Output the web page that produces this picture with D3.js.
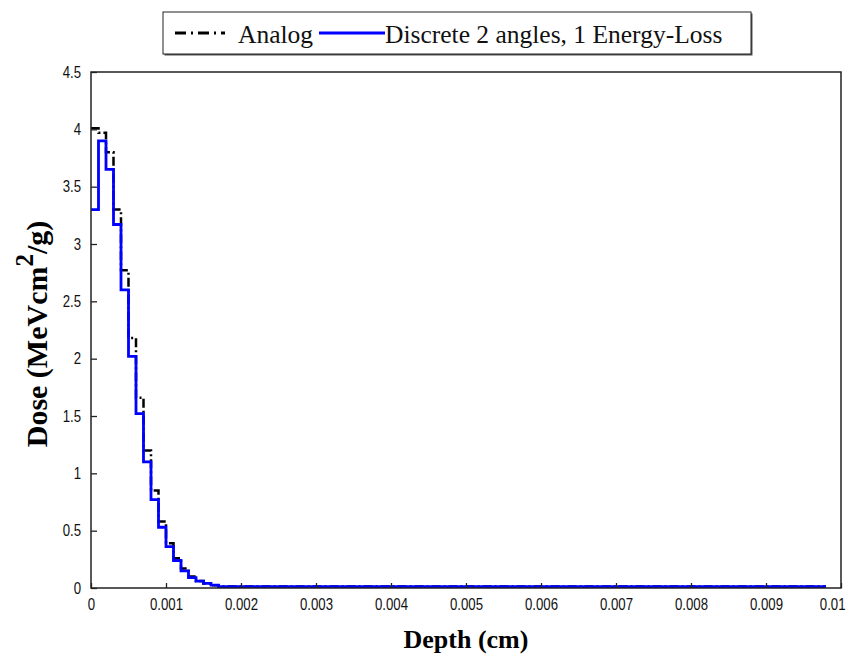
<!DOCTYPE html>
<html>
<head>
<meta charset="utf-8">
<script src="https://cdn.jsdelivr.net/npm/d3@7"></script>
<style>
  body { margin: 0; background: #fff; }
  svg { display: block; }
</style>
</head>
<body>
<svg id="chart" width="849" height="664"></svg>
<script>
"use strict";

// histogram bins: left edge of first bin and bin width (cm)
const binStart = 0;
const binWidth = 0.0001;

// Dose per bin, analog MC
const analogDose = [
  4.01, 3.97, 3.80, 3.30, 2.77, 2.18, 1.66, 1.20, 0.85, 0.58,
  0.39, 0.26, 0.17, 0.10, 0.06, 0.04, 0.025, 0.012, 0.012, 0.012,
  0.012, 0.012, 0.012, 0.012, 0.012, 0.012, 0.012, 0.012, 0.012, 0.012,
  0.012, 0.012, 0.012, 0.012, 0.012, 0.012, 0.012, 0.012, 0.012, 0.012,
  0.012, 0.012, 0.012, 0.012, 0.012, 0.012, 0.012, 0.012, 0.012, 0.012,
  0.012, 0.012, 0.012, 0.012, 0.012, 0.012, 0.012, 0.012, 0.012, 0.012,
  0.012, 0.012, 0.012, 0.012, 0.012, 0.012, 0.012, 0.012, 0.012, 0.012,
  0.012, 0.012, 0.012, 0.012, 0.012, 0.012, 0.012, 0.012, 0.012, 0.012,
  0.012, 0.012, 0.012, 0.012, 0.012, 0.012, 0.012, 0.012, 0.012, 0.012,
  0.012, 0.012, 0.012, 0.012, 0.012, 0.012, 0.012, 0.012, 0.012
];

// Dose per bin, discrete 2 angles / 1 energy-loss
const discreteDose = [
  3.30, 3.90, 3.65, 3.17, 2.60, 2.02, 1.52, 1.10, 0.77, 0.53,
  0.36, 0.24, 0.15, 0.09, 0.06, 0.04, 0.025, 0.012, 0.012, 0.012,
  0.012, 0.012, 0.012, 0.012, 0.012, 0.012, 0.012, 0.012, 0.012, 0.012,
  0.012, 0.012, 0.012, 0.012, 0.012, 0.012, 0.012, 0.012, 0.012, 0.012,
  0.012, 0.012, 0.012, 0.012, 0.012, 0.012, 0.012, 0.012, 0.012, 0.012,
  0.012, 0.012, 0.012, 0.012, 0.012, 0.012, 0.012, 0.012, 0.012, 0.012,
  0.012, 0.012, 0.012, 0.012, 0.012, 0.012, 0.012, 0.012, 0.012, 0.012,
  0.012, 0.012, 0.012, 0.012, 0.012, 0.012, 0.012, 0.012, 0.012, 0.012,
  0.012, 0.012, 0.012, 0.012, 0.012, 0.012, 0.012, 0.012, 0.012, 0.012,
  0.012, 0.012, 0.012, 0.012, 0.012, 0.012, 0.012, 0.012, 0.012
];

const xTicks = [0, 0.001, 0.002, 0.003, 0.004, 0.005, 0.006, 0.007, 0.008, 0.009, 0.01];
const xTickLabels = ["0", "0.001", "0.002", "0.003", "0.004", "0.005", "0.006", "0.007", "0.008", "0.009", "0.01"];
const yTicks = [0, 0.5, 1, 1.5, 2, 2.5, 3, 3.5, 4, 4.5];
const yTickLabels = ["0", "0.5", "1", "1.5", "2", "2.5", "3", "3.5", "4", "4.5"];
const seriesNames = ["Analog", "Discrete 2 angles, 1 Energy-Loss"];

const margin = {left: 91, top: 72, right: 8, bottom: 76};
const W = 849, H = 664;
const pw = W - margin.left - margin.right;
const ph = H - margin.top - margin.bottom;
const tickFont = "'Liberation Sans', Arial, sans-serif";
const serif = "'Liberation Serif', 'Times New Roman', serif";

const svg = d3.select("#chart");
const g = svg.append("g").attr("transform", `translate(${margin.left},${margin.top})`);

const x = d3.scaleLinear().domain([0, 0.01]).range([0, pw]);
const y = d3.scaleLinear().domain([0, 4.5]).range([ph, 0]);

const toPts = (arr) => arr.map((v, i) => [binStart + i * binWidth, v]);

const line = d3.line()
  .x(d => x(d[0]))
  .y(d => y(d[1]))
  .curve(d3.curveStepAfter);

// analog (dash-dot) underneath
g.append("path")
  .datum(toPts(analogDose))
  .attr("fill", "none")
  .attr("stroke", "#000")
  .attr("stroke-width", 2.5)
  .attr("stroke-dasharray", "9,3,2,3")
  .attr("d", line);

g.append("path")
  .datum(toPts(discreteDose))
  .attr("fill", "none")
  .attr("stroke", "#0000ff")
  .attr("stroke-width", 2.8)
  .attr("d", line);

// axes (ticks point inwards)
const xAxis = d3.axisBottom(x).tickValues(xTicks)
  .tickFormat((d, i) => xTickLabels[i]).tickSizeInner(-5).tickSizeOuter(0).tickPadding(10);
const yAxis = d3.axisLeft(y).tickValues(yTicks)
  .tickFormat((d, i) => yTickLabels[i]).tickSizeInner(-6).tickSizeOuter(0).tickPadding(10);

const gx = g.append("g").attr("transform", `translate(0,${ph})`).call(xAxis);
const gy = g.append("g").call(yAxis);
[gx, gy].forEach(a => {
  a.select(".domain").remove();
  a.selectAll("line").attr("stroke", "#222").attr("stroke-width", 1.3);
  a.selectAll("text").attr("font-family", tickFont)
    .attr("font-size", 16.5).attr("fill", "#111")
    // squeeze glyphs: the original tick font is a narrow face
    .each(function() {
      const w = this.getComputedTextLength();
      d3.select(this).attr("textLength", w * 0.8).attr("lengthAdjust", "spacingAndGlyphs");
    });
});
// last x label sits at the page edge: keep it inside
gx.selectAll(".tick text").filter((d, i) => i === xTicks.length - 1)
  .attr("text-anchor", "end").attr("x", W - margin.left - pw - 4);

// frame
g.append("rect")
  .attr("width", pw).attr("height", ph)
  .attr("fill", "none").attr("stroke", "#222").attr("stroke-width", 1.5);

// axis titles
svg.append("text")
  .attr("x", margin.left + pw / 2).attr("y", 648)
  .attr("text-anchor", "middle")
  .attr("font-family", serif)
  .attr("font-weight", "bold").attr("font-size", 26)
  .text("Depth (cm)");

const yl = svg.append("text")
  .attr("transform", `translate(47,${margin.top + ph / 2 + 4}) rotate(-90)`)
  .attr("text-anchor", "middle")
  .attr("font-family", serif)
  .attr("font-weight", "bold").attr("font-size", 30);
yl.append("tspan").text("Dose (MeVcm");
yl.append("tspan").attr("dy", -14).attr("font-size", 25).text("2");
yl.append("tspan").attr("dy", 14).text("/g)");

// legend
const lg = svg.append("g").attr("transform", "translate(163,12)");
lg.append("rect").attr("x", 1.5).attr("y", 1.5).attr("width", 588).attr("height", 42).attr("fill", "#555");
lg.append("rect").attr("width", 588).attr("height", 42)
  .attr("fill", "#fff").attr("stroke", "#222").attr("stroke-width", 1);
const legendItems = [
  {name: seriesNames[0], x0: 12, x1: 62, tx: 75, color: "#000", dash: "11,5,2,5"},
  {name: seriesNames[1], x0: 156, x1: 222, tx: 222, color: "#0000ff", dash: null}
];
legendItems.forEach(it => {
  lg.append("line").attr("x1", it.x0).attr("x2", it.x1).attr("y1", 21).attr("y2", 21)
    .attr("stroke", it.color).attr("stroke-width", 2.8)
    .attr("stroke-dasharray", it.dash);
  lg.append("text").attr("x", it.tx).attr("y", 31)
    .attr("font-family", serif)
    .attr("font-size", 25.5).attr("fill", "#111")
    .text(it.name);
});
</script>
</body>
</html>
